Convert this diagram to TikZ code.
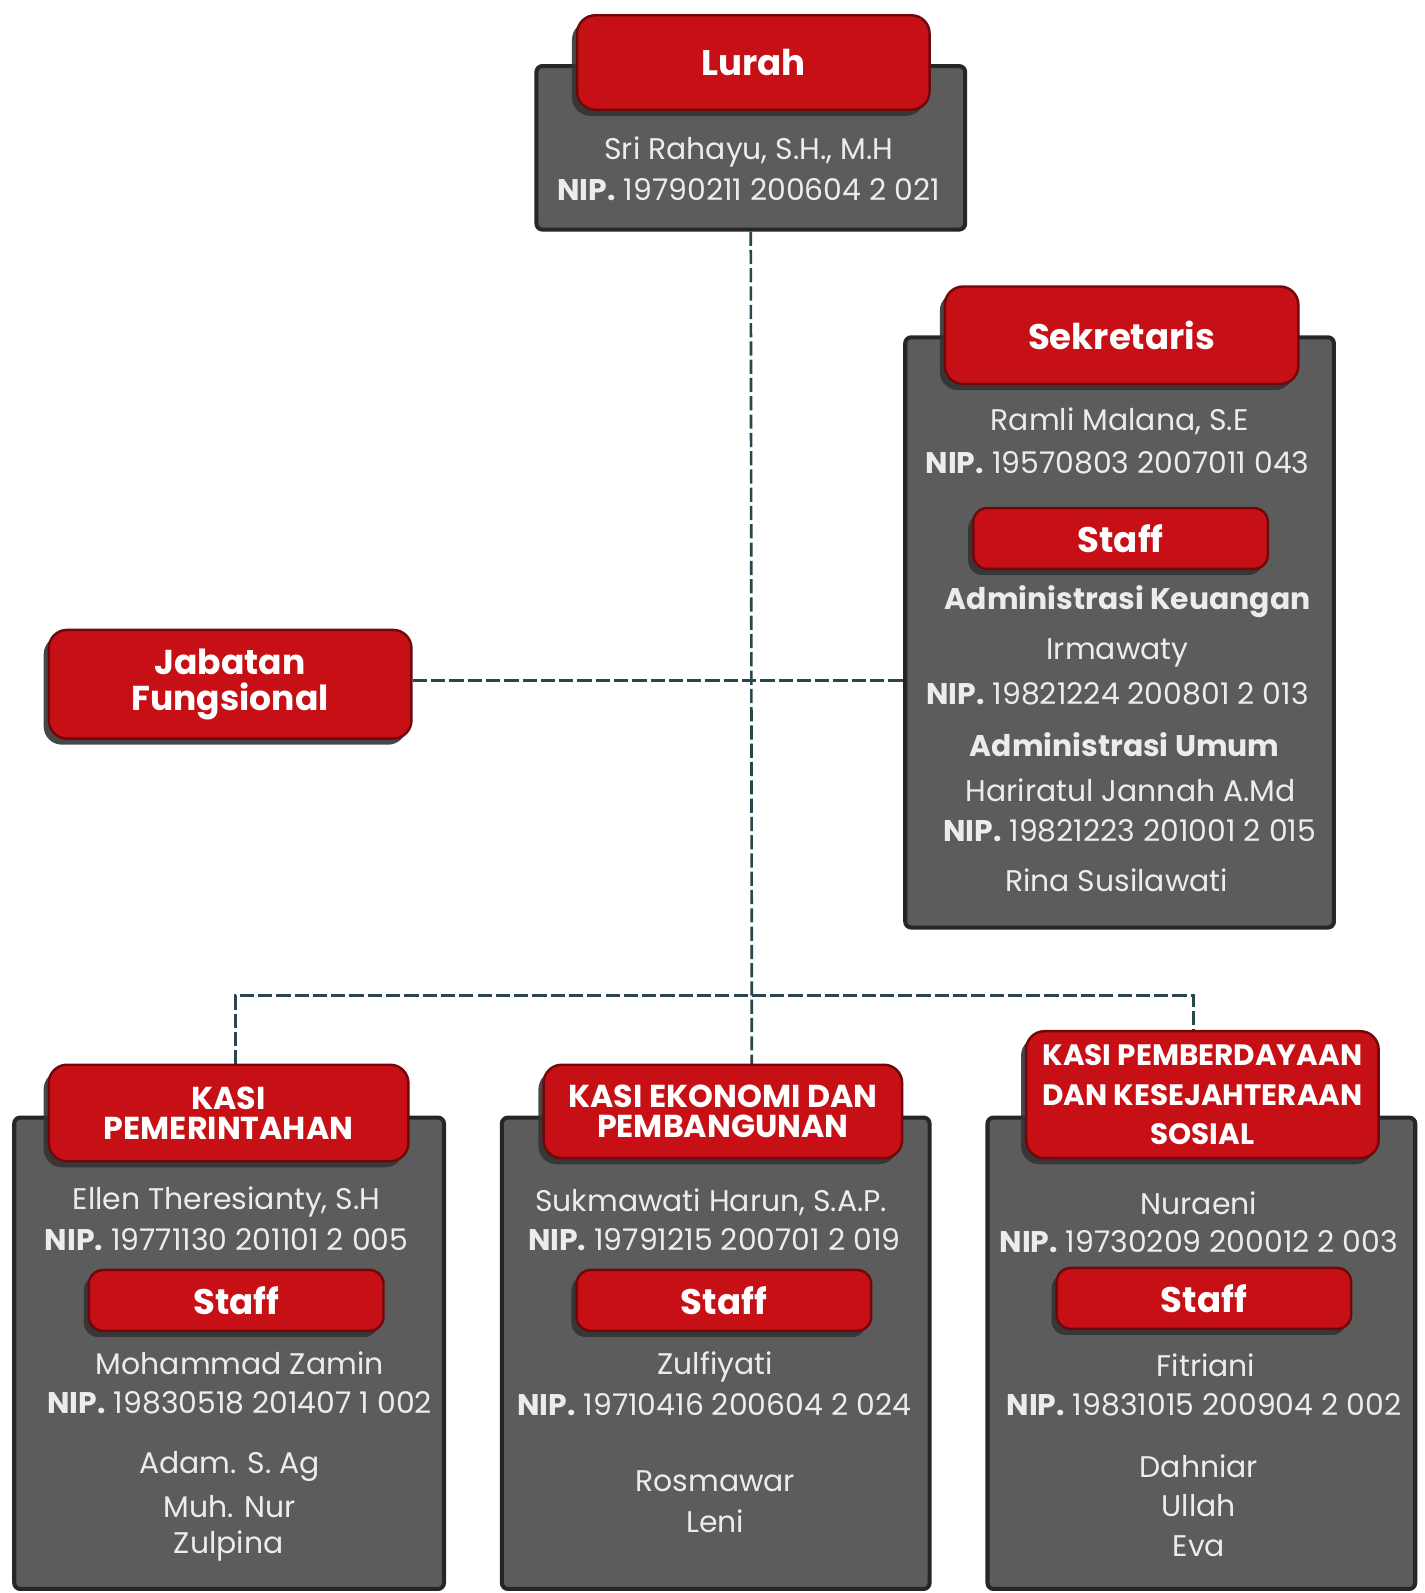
\documentclass[tikz,border=0pt]{standalone}
\usepackage{fontspec}
\setmainfont{Poppins}
\usetikzlibrary{shadows}

\definecolor{headred}{RGB}{198,16,22}
\definecolor{headedge}{RGB}{110,8,10}
\definecolor{panelgrey}{RGB}{92,92,92}
\definecolor{paneledge}{RGB}{38,38,38}
\definecolor{linkteal}{RGB}{40,72,78}
\definecolor{paletext}{RGB}{236,236,236}

\newcommand{\nipno}[1]{{\bfseries NIP.}~#1}

\tikzset{
  panel/.style={draw=paneledge, line width=2pt, fill=panelgrey, rounded corners=3pt, inner sep=0pt},
  redhead/.style={draw=headedge, line width=1.2pt, fill=headred, rounded corners=9pt, inner sep=0pt,
    text=white, align=center, font=\fontsize{17.5}{21}\selectfont\bfseries,
    drop shadow={shadow xshift=-2.5pt, shadow yshift=-3pt, fill=black!80, opacity=.9}},
  kasihead/.style={redhead, font=\fontsize{15.6}{15}\selectfont\bfseries},
  staffhead/.style={redhead, minimum width=145pt, minimum height=30pt, rounded corners=7pt},
  txt/.style={text=paletext, inner sep=0pt, font=\fontsize{14.7}{17}\selectfont},
  subtitle/.style={txt, font=\fontsize{14.7}{17}\selectfont\bfseries},
  link/.style={draw=linkteal, line width=1.3pt, dash pattern=on 7pt off 2pt}
}

\begin{document}
\begin{tikzpicture}[x=0.5pt, y=-0.5pt]
  \useasboundingbox[fill=white] (0,0) rectangle (1402,1568);

  % Panels
  \node[panel, minimum width=211pt, minimum height=80.5pt] (lurahbox) at (739,145.5) {};
  \node[panel, minimum width=211pt, minimum height=290.5pt] (sekbox) at (1102,622.5) {};
  \node[panel, minimum width=211.5pt, minimum height=232pt] (pembox) at (225.5,1332) {};
  \node[panel, minimum width=210.5pt, minimum height=232pt] (ekobox) at (704.5,1332) {};
  \node[panel, minimum width=210.5pt, minimum height=232pt] (sosbox) at (1182.5,1332) {};

  % Connectors
  \coordinate (hub) at (740,980);
  \draw[link] (lurahbox.south) -- (hub) -- (hub |- 0,1048);
  \draw[link] (232,1048) |- (hub) -| (1175,1018);
  \node[inner sep=0pt] (jabatanend) at (405,670) {};
  \draw[link] (jabatanend) -- (sekbox.west |- jabatanend);

  % Lurah
  \node[redhead, minimum width=173.5pt, minimum height=46.5pt] (lurah) at (741.5,61.5) {Lurah};
  \node[txt] (lurahname) at (737,150) {Sri Rahayu, S.H., M.H};
  \node[txt] (lurahnip) at (737,187) {\nipno{19790211 200604 2 021}};

  % Jabatan Fungsional
  \node[redhead, minimum width=178.5pt, minimum height=53.5pt, font=\fontsize{17}{17.5}\selectfont\bfseries] (jabatan) at (226.5,673.5) {Jabatan\\Fungsional};

  % Sekretaris
  \node[redhead, minimum width=174pt, minimum height=48pt] (sek) at (1104,330) {Sekretaris};
  \node[txt] (sekname) at (1102,415) {Ramli Malana, S.E};
  \node[txt] (seknip) at (1100,456) {\nipno{19570803 2007011 043}};
  \node[staffhead] (sekstaff) at (1103,530) {Staff};
  \node[subtitle] (keuangan) at (1110,592) {Administrasi Keuangan};
  \node[txt] (keuname) at (1100,643) {Irmawaty};
  \node[txt] (keunip) at (1100,683) {\nipno{19821224 200801 2 013}};
  \node[subtitle] (umum) at (1107,733) {Administrasi Umum};
  \node[txt] (umumname) at (1113,778) {Hariratul Jannah A.Md};
  \node[txt] (umumnip) at (1112,818) {\nipno{19821223 201001 2 015}};
  \node[txt] (umumstaff) at (1099,866) {Rina Susilawati};

  % Kasi Pemerintahan
  \node[kasihead, minimum width=177pt, minimum height=47.5pt] (pem) at (225,1095.5) {KASI\\PEMERINTAHAN};
  \node[txt] (pemname) at (223,1183) {Ellen Theresianty, S.H};
  \node[txt] (pemnip) at (223,1220) {\nipno{19771130 201101 2 005}};
  \node[staffhead] (pemstaff) at (232.5,1280) {Staff};
  \node[txt] (pemsname) at (236,1342) {Mohammad Zamin};
  \node[txt] (pemsnip) at (236,1381) {\nipno{19830518 201407 1 002}};
  \node[txt] (pemadam) at (226,1443) {Adam. S. Ag};
  \node[txt] (pemnur) at (226,1483) {Muh. Nur};
  \node[txt] (pemzul) at (225,1522) {Zulpina};

  % Kasi Ekonomi dan Pembangunan
  \node[kasihead, minimum width=176.5pt, minimum height=46pt] (eko) at (711.5,1094) {KASI EKONOMI DAN\\PEMBANGUNAN};
  \node[txt] (ekoname) at (700,1183) {Sukmawati Harun, S.A.P.};
  \node[txt] (ekonip) at (703,1220) {\nipno{19791215 200701 2 019}};
  \node[staffhead] (ekostaff) at (712.5,1280) {Staff};
  \node[txt] (ekosname) at (704,1345) {Zulfiyati};
  \node[txt] (ekosnip) at (703,1383) {\nipno{19710416 200604 2 024}};
  \node[txt] (ekoros) at (704,1458) {Rosmawar};
  \node[txt] (ekoleni) at (704,1497) {Leni};

  % Kasi Pemberdayaan dan Kesejahteraan Sosial
  \node[kasihead, minimum width=173.5pt, minimum height=62.5pt, font=\fontsize{14.5}{19.5}\selectfont\bfseries] (sos) at (1183.5,1077.5) {KASI PEMBERDAYAAN\\DAN KESEJAHTERAAN\\SOSIAL};
  \node[txt] (sosname) at (1180,1184) {Nuraeni};
  \node[txt] (sosnip) at (1180,1222) {\nipno{19730209 200012 2 003}};
  \node[staffhead] (sosstaff) at (1185,1278) {Staff};
  \node[txt] (sossname) at (1187,1344) {Fitriani};
  \node[txt] (sossnip) at (1185,1383) {\nipno{19831015 200904 2 002}};
  \node[txt] (sosdah) at (1180,1443) {Dahniar};
  \node[txt] (sosull) at (1180,1482) {Ullah};
  \node[txt] (soseva) at (1180,1522) {Eva};
\end{tikzpicture}
\end{document}
